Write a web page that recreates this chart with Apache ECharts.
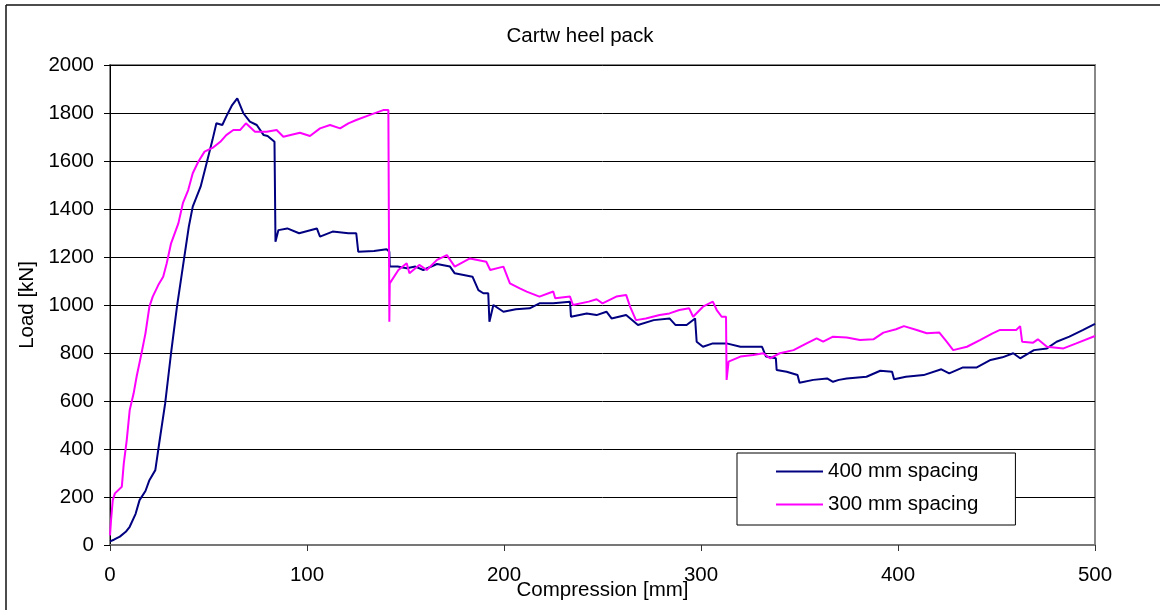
<!DOCTYPE html>
<html>
<head>
<meta charset="utf-8">
<script src="https://cdn.jsdelivr.net/npm/echarts@6/dist/echarts.min.js"></script>
<style>
html,body{margin:0;padding:0;background:#fff;}
#chart{width:1160px;height:610px;}
</style>
</head>
<body>
<div id="chart"></div>
<script>
const chartTitle = 'Cartw heel pack';
const xAxisName = 'Compression [mm]';
const yAxisName = 'Load [kN]';
const seriesNames = ['400 mm spacing', '300 mm spacing'];

const xTicks = [0, 100, 200, 300, 400, 500];
const yTicks = [0, 200, 400, 600, 800, 1000, 1200, 1400, 1600, 1800, 2000];

// 400 mm spacing
const spacing400X = [0,2,5,8,10,13,15,18,20,23,25,28,31,34,37,40,42,46,49,52,54,57,59,62,64.6,67.7,71,74.5,78,80,83.5,84,85.5,90,96,105,106.6,113,121,125,126,134,140.4,141.8,142,146,150.6,155,159,166,172.6,175,184,187,189.5,192,192.6,194.6,199.7,206,213,218,225,233.5,234,242,247,252,254.6,262,268,276,284,287,292.7,297,297.8,301,306,313,320,331,333,338,338.4,343.5,349,350,357,364,367,370,374,384,391,397,398,404,413,422,426,433,440,447,453,458.5,462,469,475.6,480.5,487,494,500];
const spacing400Y = [15,22,35,55,76,130,187,225,270,312,425,590,800,993,1160,1326,1410,1493,1590,1687,1757,1750,1785,1833,1861,1799,1764,1750,1708,1704,1680,1264,1312,1319,1299,1319,1285,1306,1299,1299,1222,1225,1232,1222,1160,1160,1153,1160,1146,1171,1160,1132,1118,1062,1049,1049,930,1000,972,982,986,1007,1007,1014,951,965,958,972,944,958,917,937,944,917,917,944,847,826,840,840,826,826,785,778,729,722,708,676,688,694,680,688,694,701,726,722,691,701,708,732,715,740,740,771,782,799,778,812,819,847,868,896,921];

// 300 mm spacing
const spacing300X = [0,0.5,1.4,2.5,6,7,8.5,10,12,13.5,16,18,20,21.7,24.5,27,28.8,31,34.7,37,39.7,42,44.8,48,52.5,56,59,62.6,66,69,73.6,79.5,84.6,88,96.4,101.5,106.6,111.7,116.8,121,125,132,138.7,141.3,141.8,142,146.4,150.6,152,157,160.8,166,171,175,182.7,191,193,199.7,203,208,211.5,218,225,226,233.5,235,243,247,250,257,262,264,267,272,279,284,289,294,296,301,306,308,310.5,312.7,313,314,320,326.5,331.6,335,340,347,353.6,358.7,362,367,374,380.7,387.5,392.6,399,403,409.5,414.6,421,424.7,428,435,441.6,448,451.8,460,462,463,468.6,471,475.6,484,490.5,500];
const spacing300Y = [40,100,187,215,243,340,437,562,632,701,799,882,993,1035,1083,1118,1174,1257,1340,1424,1479,1549,1597,1639,1657,1680,1708,1729,1729,1757,1722,1722,1729,1701,1718,1704,1736,1750,1736,1757,1771,1792,1812,1812,930,1090,1146,1174,1132,1167,1146,1188,1208,1160,1194,1180,1146,1160,1090,1069,1056,1035,1056,1028,1035,1000,1014,1024,1007,1035,1042,993,937,944,958,965,979,986,951,993,1014,979,951,951,688,764,785,792,799,778,799,812,840,861,847,868,865,854,857,885,899,912,896,882,885,847,812,826,854,882,896,896,912,847,843,857,826,819,840,871];

function pairs(xs, ys) { return xs.map((x, i) => [x, ys[i]]); }

const FONT = '"Liberation Sans", Arial, sans-serif';
const FS = 20.5;
const chart = echarts.init(document.getElementById('chart'), null, {renderer: 'canvas'});
chart.setOption({
  animation: false,
  backgroundColor: '#ffffff',
  title: {
    text: chartTitle,
    left: 'center',
    top: 21,
    textStyle: {fontFamily: FONT, fontSize: FS, fontWeight: 'normal', color: '#000'}
  },
  grid: {
    left: 110, right: 65, top: 65, bottom: 65,
    containLabel: false,
    outerBoundsMode: 'none',
    show: true, borderColor: '#888', borderWidth: 2, backgroundColor: '#fff'
  },
  legend: {
    orient: 'vertical',
    left: 737, top: 453,
    padding: [8, 37, 10, 39],
    itemGap: 12,
    itemWidth: 47, itemHeight: 2,
    icon: 'rect',
    backgroundColor: '#fff',
    borderColor: '#000', borderWidth: 1,
    textStyle: {fontFamily: FONT, fontSize: FS, color: '#000', lineHeight: 20},
    data: seriesNames
  },
  xAxis: {
    type: 'value', min: xTicks[0], max: xTicks[xTicks.length - 1], interval: 100,
    name: xAxisName, nameLocation: 'middle', nameGap: 35, nameMoveOverlap: false,
    nameTextStyle: {fontFamily: FONT, fontSize: FS, color: '#000'},
    axisLine: {show: true, lineStyle: {color: '#777', width: 2}},
    axisTick: {show: true, inside: false, length: 6, lineStyle: {color: '#333', width: 1}},
    axisLabel: {fontFamily: FONT, fontSize: FS, color: '#000', margin: 20, formatter: v => String(v)},
    splitLine: {show: false}
  },
  yAxis: {
    type: 'value', min: yTicks[0], max: yTicks[yTicks.length - 1], interval: 200,
    name: yAxisName, nameLocation: 'middle', nameGap: 72, nameRotate: 90, nameMoveOverlap: false,
    nameTextStyle: {fontFamily: FONT, fontSize: FS, color: '#000'},
    axisLine: {show: true, lineStyle: {color: '#000', width: 1}},
    axisTick: {show: true, inside: false, length: 6, lineStyle: {color: '#000', width: 1}},
    axisLabel: {fontFamily: FONT, fontSize: FS, color: '#000', margin: 16, formatter: v => String(v)},
    splitLine: {show: true, lineStyle: {color: '#000', width: 1}}
  },
  graphic: [
    {type: 'line', shape: {x1: 6, y1: 5, x2: 1160, y2: 5}, style: {stroke: '#111', lineWidth: 1.5}, z: 100},
    {type: 'line', shape: {x1: 6, y1: 5, x2: 6, y2: 610}, style: {stroke: '#111', lineWidth: 1.5}, z: 100}
  ],
  series: [
    {
      name: seriesNames[0], type: 'line', data: pairs(spacing400X, spacing400Y),
      symbol: 'none', color: '#000080',
      lineStyle: {color: '#000080', width: 2}
    },
    {
      name: seriesNames[1], type: 'line', data: pairs(spacing300X, spacing300Y),
      symbol: 'none', color: '#ff00ff',
      lineStyle: {color: '#ff00ff', width: 2}
    }
  ]
});
</script>
</body>
</html>
